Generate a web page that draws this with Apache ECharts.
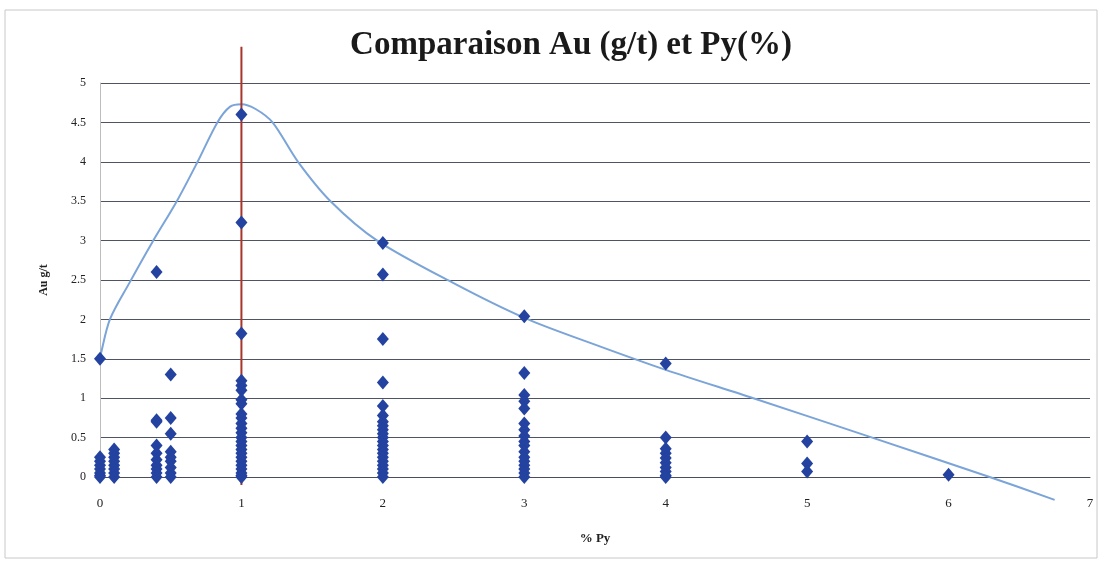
<!DOCTYPE html>
<html>
<head>
<meta charset="utf-8">
<script src="https://cdn.jsdelivr.net/npm/echarts@6/dist/echarts.min.js"></script>
<style>
  html, body { margin: 0; padding: 0; background: #fff; }
  #chart { width: 1104px; height: 565px; }
</style>
</head>
<body>
<div id="chart"></div>
<script>
// Gold grade (g/t) measured at each pyrite level (%)
const auAtPy0   = [1.5, 0.25, 0.2, 0.15, 0.1, 0.05, 0.02, 0];
const auAtPy01  = [0.35, 0.3, 0.25, 0.2, 0.15, 0.1, 0.05, 0];
const auAtPy04  = [2.6, 0.72, 0.7, 0.4, 0.3, 0.22, 0.15, 0.1, 0.05, 0];
const auAtPy05  = [1.3, 0.75, 0.55, 0.32, 0.25, 0.2, 0.12, 0.05, 0];
const auAtPy1   = [4.6, 3.23, 1.82, 1.22, 1.16, 1.1, 0.98, 0.93, 0.8, 0.75, 0.68, 0.62, 0.56, 0.5, 0.45, 0.4, 0.35, 0.3, 0.25, 0.2, 0.15, 0.1, 0.05, 0.02, 0];
const auAtPy2   = [2.97, 2.57, 1.75, 1.2, 0.9, 0.78, 0.7, 0.65, 0.6, 0.55, 0.5, 0.45, 0.4, 0.35, 0.3, 0.25, 0.2, 0.15, 0.1, 0.05, 0];
const auAtPy3   = [2.04, 1.32, 1.04, 0.96, 0.87, 0.68, 0.6, 0.52, 0.45, 0.4, 0.32, 0.25, 0.2, 0.15, 0.1, 0.05, 0];
const auAtPy4   = [1.44, 0.5, 0.36, 0.3, 0.24, 0.18, 0.12, 0.07, 0.02, 0];
const auAtPy5   = [0.45, 0.17, 0.07];
const auAtPy6   = [0.03];

const pyLevels = [0, 0.1, 0.4, 0.5, 1, 2, 3, 4, 5, 6];
const auGroups = [auAtPy0, auAtPy01, auAtPy04, auAtPy05, auAtPy1, auAtPy2, auAtPy3, auAtPy4, auAtPy5, auAtPy6];

// Hand-drawn trend curve
const trendPy = [-0.02, 0, 0.07, 0.21, 0.37, 0.54, 0.69, 0.83, 0.92, 1.0, 1.1, 1.22, 1.4, 1.63, 1.96, 2.5, 3.0, 3.5, 4.0, 4.62, 5.46, 6.29, 6.75];
const trendAu = [1.40, 1.52, 2.0, 2.47, 2.98, 3.49, 4.0, 4.5, 4.7, 4.73, 4.67, 4.5, 4.0, 3.5, 3.0, 2.46, 2.02, 1.68, 1.36, 1.0, 0.5, 0, -0.29];

// Reference line at 1 % Py
const refPy = [1, 1];
const refAu = [-0.1, 5.46];

const yTicks = [0, 0.5, 1, 1.5, 2, 2.5, 3, 3.5, 4, 4.5, 5];
const xTicks = [0, 1, 2, 3, 4, 5, 6, 7];

const points = [];
pyLevels.forEach((py, i) => auGroups[i].forEach(au => points.push([py, au])));

const serif = '"Liberation Serif", "DejaVu Serif", serif';

const chart = echarts.init(document.getElementById('chart'));
chart.setOption({
  animation: false,
  backgroundColor: '#ffffff',
  title: {
    text: 'Comparaison Au (g/t) et Py(%)',
    left: 566,
    textAlign: 'center',
    top: 24,
    textStyle: { fontFamily: serif, fontSize: 33, fontWeight: 'bold', color: '#1a1a1a' }
  },
  graphic: [{
    type: 'rect',
    shape: { x: 5, y: 10, width: 1092, height: 548 },
    style: { fill: null, stroke: '#c8c8c8', lineWidth: 1 },
    silent: true
  }],
  grid: { left: 100, right: 14, top: 83, bottom: 88 },
  xAxis: {
    type: 'value',
    min: xTicks[0],
    max: xTicks[xTicks.length - 1],
    interval: 1,
    name: '% Py',
    nameLocation: 'middle',
    nameGap: 55,
    nameTextStyle: { fontFamily: serif, fontSize: 13, fontWeight: 'bold', color: '#222' },
    axisLine: { lineStyle: { color: '#4a4e5a', width: 1 } },
    axisTick: { show: false },
    axisLabel: { fontFamily: serif, fontSize: 13, color: '#222', margin: 20 },
    splitLine: { show: false }
  },
  yAxis: {
    type: 'value',
    min: yTicks[0],
    max: yTicks[yTicks.length - 1],
    interval: 0.5,
    name: 'Au g/t',
    nameLocation: 'middle',
    nameGap: 50,
    nameRotate: 90,
    nameTextStyle: { fontFamily: serif, fontSize: 12, fontWeight: 'bold', color: '#222' },
    axisLine: { show: true, lineStyle: { color: '#bdbdbd', width: 1 } },
    axisTick: { show: false },
    axisLabel: { fontFamily: serif, fontSize: 12, color: '#222', margin: 14 },
    splitLine: { show: true, lineStyle: { color: '#4f5462', width: 1 } }
  },
  series: [
    {
      type: 'line',
      data: trendPy.map((x, i) => [x, trendAu[i]]),
      smooth: 0.3,
      showSymbol: false,
      clip: false,
      lineStyle: { color: '#7ba4d8', width: 2 },
      z: 3
    },
    {
      type: 'line',
      data: refPy.map((x, i) => [x, refAu[i]]),
      showSymbol: false,
      clip: false,
      lineStyle: { color: '#a8342a', width: 2 },
      z: 4
    },
    {
      type: 'scatter',
      data: points,
      symbol: 'diamond',
      symbolSize: [12, 14],
      clip: false,
      itemStyle: { color: '#24429f', opacity: 1 },
      z: 5
    }
  ]
});
</script>
</body>
</html>
